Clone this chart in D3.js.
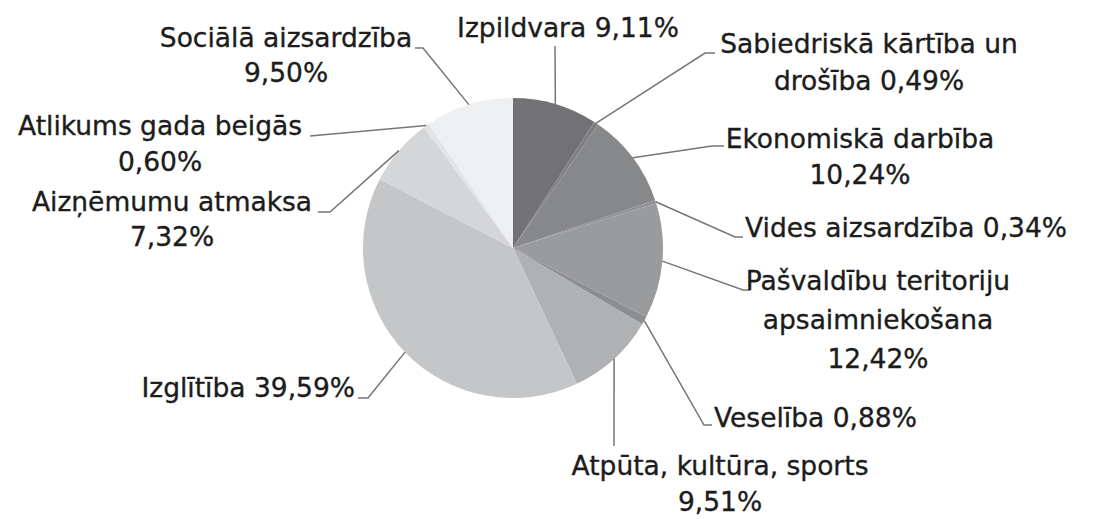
<!DOCTYPE html>
<html>
<head>
<meta charset="utf-8">
<script src="https://cdn.jsdelivr.net/npm/d3@7"></script>
<style>
  body { margin: 0; background: #fff; }
  svg { display: block; }
  .lbl { font-family: "DejaVu Sans", sans-serif; font-size: 26.5px; fill: #1c1c1c; stroke: #1c1c1c; stroke-width: 0.35px; }
</style>
</head>
<body>
<svg id="pie"></svg>
<script>
// budget shares, clockwise from 12 o'clock
let categories = [
    "Izpildvara",
    "Sabiedriskā kārtība un drošība",
    "Ekonomiskā darbība",
    "Vides aizsardzība",
    "Pašvaldību teritoriju apsaimniekošana",
    "Veselība",
    "Atpūta, kultūra, sports",
    "Izglītība",
    "Aizņēmumu atmaksa",
    "Atlikums gada beigās",
    "Sociālā aizsardzība"
];
let values = [9.11, 0.49, 10.24, 0.34, 12.42, 0.88, 9.51, 39.59, 7.32, 0.60, 9.50];
let colors = ["#727274", "#7e7f81", "#87888a", "#909193", "#9a9b9d", "#8d8e90",
              "#b0b1b3", "#c5c6c8", "#d5d6d8", "#e3e4e6", "#eeeff1"];

// label text lines, {v} = value
let labelLines = [
    ["Izpildvara {v}"],
    ["Sabiedriskā kārtība un", "drošība {v}"],
    ["Ekonomiskā darbība", "{v}"],
    ["Vides aizsardzība {v}"],
    ["Pašvaldību teritoriju", "apsaimniekošana", "{v}"],
    ["Veselība {v}"],
    ["Atpūta, kultūra, sports", "{v}"],
    ["Izglītība {v}"],
    ["Aizņēmumu atmaksa", "{v}"],
    ["Atlikums gada beigās", "{v}"],
    ["Sociālā aizsardzība", "{v}"]
];

// label layout: text x, anchor, first baseline, line gap, leader elbow, tick end
let labelPos = [
    { x: 568, anchor: "middle", y: 37, gap: 0,  elbow: [555, 46],  tick: null },
    { x: 869, anchor: "middle", y: 53, gap: 37, elbow: [705, 53],  tick: 715 },
    { x: 860, anchor: "middle", y: 148, gap: 36, elbow: [712, 146], tick: 724 },
    { x: 745, anchor: "start",  y: 237, gap: 0,  elbow: [735, 237], tick: 743 },
    { x: 878, anchor: "middle", y: 290, gap: 39, elbow: [743, 290], tick: 750 },
    { x: 714, anchor: "start",  y: 427, gap: 0,  elbow: [704, 425], tick: 712 },
    { x: 720, anchor: "middle", y: 475, gap: 36, elbow: [614, 446], tick: null },
    { x: 355, anchor: "end",    y: 397, gap: 0,  elbow: [368, 398], tick: 358 },
    { x: 172, anchor: "middle", y: 211, gap: 35, elbow: [330, 212], tick: 318 },
    { x: 160, anchor: "middle", y: 135, gap: 36, elbow: [310, 136], tick: null },
    { x: 286, anchor: "middle", y: 47,  gap: 35, elbow: [423, 48],  tick: 415 }
];

function fmt(v) {
    return v.toFixed(2).replace(".", ",") + "%";
}

function createPie() {
    let w = 1100, h = 519;
    let cx = 513, cy = 248, r = 150;

    let svg = d3.select("#pie")
        .attr("width", w)
        .attr("height", h);

    let g = svg.append("g").attr("transform", `translate(${cx},${cy})`);

    let pie = d3.pie().sort(null).value(d => d);
    let arcs = pie(values);

    let arc = d3.arc().innerRadius(0).outerRadius(r);

    g.selectAll("path")
        .data(arcs)
        .enter()
        .append("path")
        .attr("d", arc)
        .attr("fill", (d, i) => colors[i]);

    // leader lines
    arcs.forEach((d, i) => {
        let a = (d.startAngle + d.endAngle) / 2;
        let p0 = [cx + r * Math.sin(a), cy - r * Math.cos(a)];
        let lp = labelPos[i];
        let pts = [p0, lp.elbow];
        if (lp.tick !== null) pts.push([lp.tick, lp.elbow[1]]);
        svg.append("path")
            .attr("d", d3.line()(pts))
            .attr("fill", "none")
            .attr("stroke", "#7a7474")
            .attr("stroke-width", 1.5);
    });

    // labels
    labelLines.forEach((lines, i) => {
        let lp = labelPos[i];
        let t = svg.append("text")
            .attr("class", "lbl")
            .attr("text-anchor", lp.anchor);
        lines.forEach((s, j) => {
            t.append("tspan")
                .attr("x", lp.x)
                .attr("y", lp.y + j * lp.gap)
                .text(s.replace("{v}", fmt(values[i])));
        });
    });
}

window.onload = function() {
    createPie();
}
</script>
</body>
</html>
